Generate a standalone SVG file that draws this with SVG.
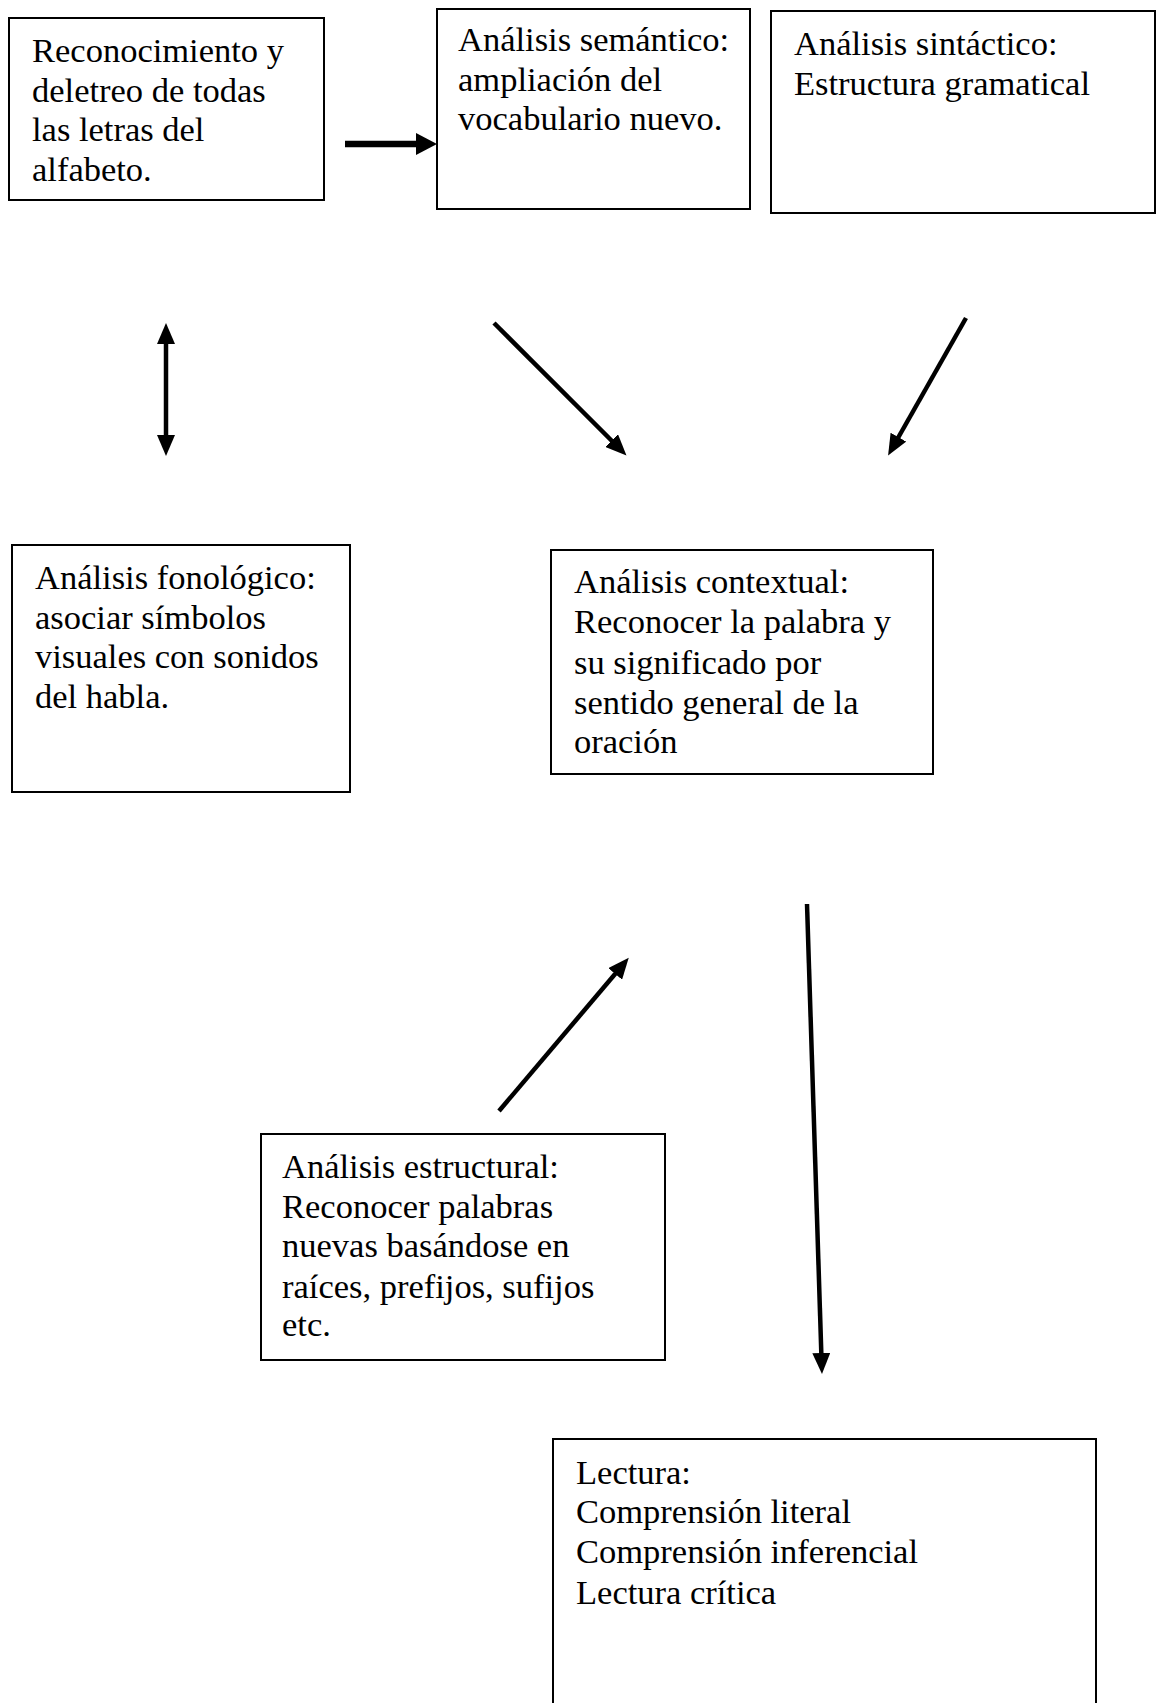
<svg xmlns="http://www.w3.org/2000/svg" width="1157" height="1703" viewBox="0 0 1157 1703">
<style>
.box{fill:#fff;stroke:#000;stroke-width:2}
.t{font-family:"Liberation Serif","Times New Roman",serif;font-size:34.5px;fill:#000}
.c{fill:none;stroke:#000;stroke-width:4.5}
</style>
<defs>
<marker id="ah" markerUnits="userSpaceOnUse" markerWidth="22" markerHeight="18" refX="9" refY="9" orient="auto-start-reverse" viewBox="0 0 22 18">
<path d="M0,0 L21,9 L0,18 z" fill="#000"/>
</marker>
<marker id="ahb" markerUnits="userSpaceOnUse" markerWidth="22" markerHeight="22" refX="8" refY="11" orient="auto" viewBox="0 0 22 22">
<path d="M0,0 L21,11 L0,22 z" fill="#000"/>
</marker>
</defs>
<rect width="1157" height="1703" fill="#fff"/>
<g id="n1">
<rect class="box" x="9" y="18" width="315" height="182"/>
<text class="t" x="32" y="62">Reconocimiento y</text>
<text class="t" x="32" y="101.5">deletreo de todas</text>
<text class="t" x="32" y="141">las letras del</text>
<text class="t" x="32" y="180.5">alfabeto.</text>
</g>
<g id="n2">
<rect class="box" x="437" y="9" width="313" height="200"/>
<text class="t" x="458" y="51">Análisis semántico:</text>
<text class="t" x="458" y="90.5">ampliación del</text>
<text class="t" x="458" y="130">vocabulario nuevo.</text>
</g>
<g id="n3">
<rect class="box" x="771" y="11" width="384" height="202"/>
<text class="t" x="794" y="55">Análisis sintáctico:</text>
<text class="t" x="794" y="95">Estructura gramatical</text>
</g>
<g id="n4">
<rect class="box" x="12" y="545" width="338" height="247"/>
<text class="t" x="35" y="589">Análisis fonológico:</text>
<text class="t" x="35" y="629">asociar símbolos</text>
<text class="t" x="35" y="668">visuales con sonidos</text>
<text class="t" x="35" y="708">del habla.</text>
</g>
<g id="n5">
<rect class="box" x="551" y="550" width="382" height="224"/>
<text class="t" x="574" y="593">Análisis contextual:</text>
<text class="t" x="574" y="633">Reconocer la palabra y</text>
<text class="t" x="574" y="674">su significado por</text>
<text class="t" x="574" y="714">sentido general de la</text>
<text class="t" x="574" y="753">oración</text>
</g>
<g id="n6">
<rect class="box" x="261" y="1134" width="404" height="226"/>
<text class="t" x="282" y="1178">Análisis estructural:</text>
<text class="t" x="282" y="1218">Reconocer palabras</text>
<text class="t" x="282" y="1257">nuevas basándose en</text>
<text class="t" x="282" y="1298">raíces, prefijos, sufijos</text>
<text class="t" x="282" y="1336">etc.</text>
</g>
<g id="n7">
<rect class="box" x="553" y="1439" width="543" height="280"/>
<text class="t" x="576" y="1484">Lectura:</text>
<text class="t" x="576" y="1523">Comprensión literal</text>
<text class="t" x="576" y="1563">Comprensión inferencial</text>
<text class="t" x="576" y="1604">Lectura crítica</text>
</g>
<g id="connectors">
<line class="c" x1="345" y1="144" x2="424" y2="144" style="stroke-width:6.5" marker-end="url(#ahb)"/>
<line class="c" x1="166" y1="335" x2="166" y2="444" marker-start="url(#ah)" marker-end="url(#ah)"/>
<line class="c" x1="494" y1="323" x2="618" y2="447" marker-end="url(#ah)"/>
<line class="c" x1="966" y1="318" x2="894" y2="445" marker-end="url(#ah)"/>
<line class="c" x1="499" y1="1111" x2="621" y2="967" marker-end="url(#ah)"/>
<line class="c" x1="807" y1="904" x2="821.6" y2="1362" marker-end="url(#ah)"/>
</g>
</svg>
